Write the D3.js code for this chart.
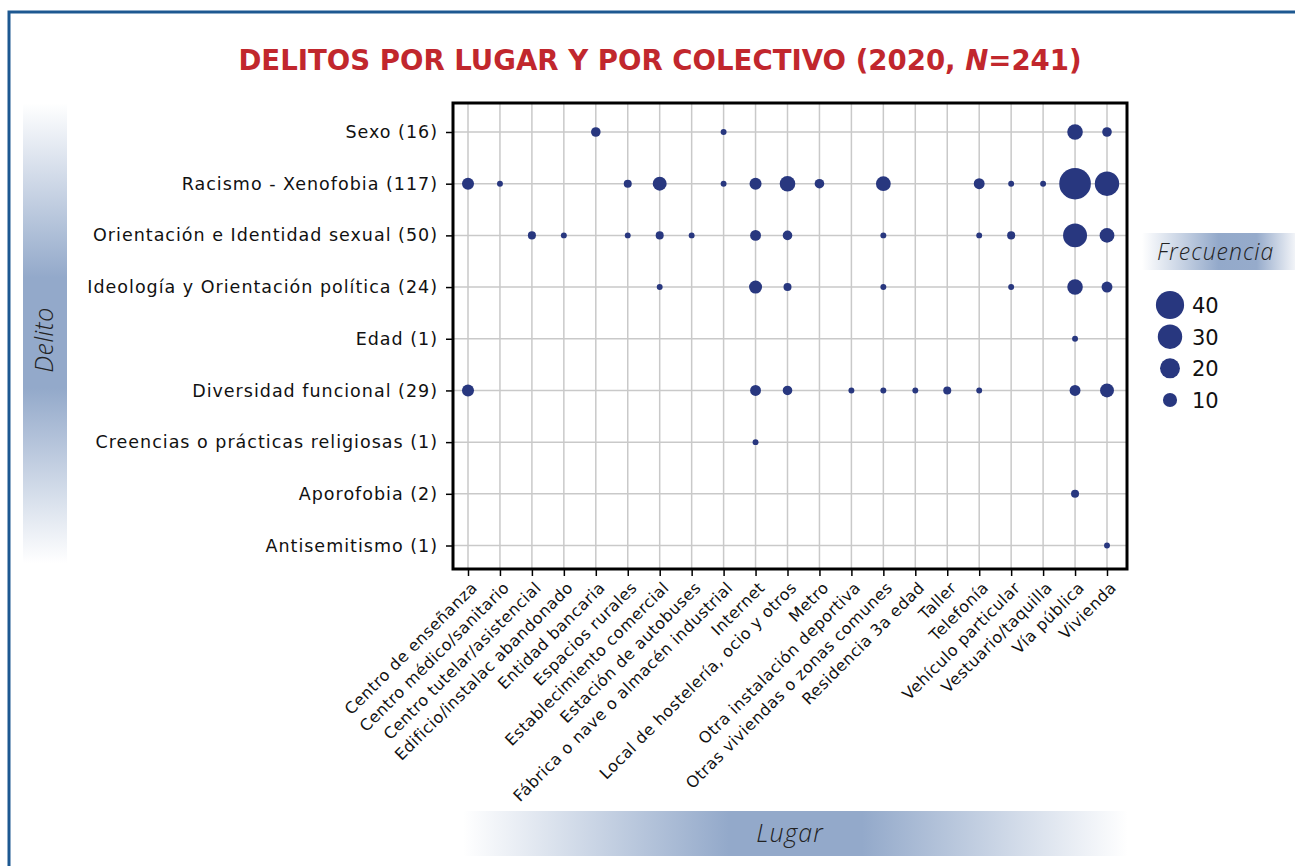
<!DOCTYPE html>
<html>
<head>
<meta charset="utf-8">
<script src="https://cdn.jsdelivr.net/npm/d3@7"></script>
<style>
  html, body { margin: 0; padding: 0; background: #ffffff; }
  svg { display: block; }
</style>
</head>
<body>
<svg id="chart" width="1295" height="866"></svg>
<script>
// ---------------- DATA ----------------
const lugares = [
  "Centro de enseñanza", "Centro médico/sanitario", "Centro tutelar/asistencial",
  "Edificio/instalac abandonado", "Entidad bancaria", "Espacios rurales",
  "Establecimiento comercial", "Estación de autobuses", "Fábrica o nave o almacén industrial",
  "Internet", "Local de hostelería, ocio y otros", "Metro", "Otra instalación deportiva",
  "Otras viviendas o zonas comunes", "Residencia 3a edad", "Taller", "Telefonía",
  "Vehículo particular", "Vestuario/taquilla", "Vía pública", "Vivienda"
];
const delitos = [
  "Sexo (16)", "Racismo - Xenofobia (117)", "Orientación e Identidad sexual (50)",
  "Ideología y Orientación política (24)", "Edad (1)", "Diversidad funcional (29)",
  "Creencias o prácticas religiosas (1)", "Aporofobia (2)", "Antisemitismo (1)"
];
// one array per delito, values in lugares order (0 = no case)
const sexo          = [0,0,0,0,3,0,0,0,1,0,0,0,0,0,0,0,0,0,0,9,3];
const racismo       = [5,1,0,0,0,2,7,0,1,5,9,3,0,8,0,0,4,1,1,45,25];
const orientacion   = [0,0,2,1,0,1,2,1,0,4,3,0,0,1,0,0,1,2,0,24,8];
const ideologia     = [0,0,0,0,0,0,1,0,0,6,2,0,0,1,0,0,0,1,0,9,4];
const edad          = [0,0,0,0,0,0,0,0,0,0,0,0,0,0,0,0,0,0,0,1,0];
const diversidad    = [5,0,0,0,0,0,0,0,0,4,3,0,1,1,1,2,1,0,0,4,7];
const creencias     = [0,0,0,0,0,0,0,0,0,1,0,0,0,0,0,0,0,0,0,0,0];
const aporofobia    = [0,0,0,0,0,0,0,0,0,0,0,0,0,0,0,0,0,0,0,2,0];
const antisemitismo = [0,0,0,0,0,0,0,0,0,0,0,0,0,0,0,0,0,0,0,0,1];
const legendValues  = [40, 30, 20, 10];

const titleText = "DELITOS POR LUGAR Y POR COLECTIVO (2020, ";
const seriesRows = [sexo, racismo, orientacion, ideologia, edad, diversidad, creencias, aporofobia, antisemitismo];

// ---------------- LAYOUT ----------------
const W = 1295, H = 866;
const plot = { x0: 453, y0: 103, x1: 1127, y1: 569 };
const NAVY = "#28377f";
const FONT = "'DejaVu Sans', 'Open Sans', sans-serif";
const LIGHT = "'Open Sans', 'Noto Sans', sans-serif";

const svg = d3.select("#chart");
const defs = svg.append("defs");

function gradient(id, horizontal, stops) {
  const g = defs.append("linearGradient").attr("id", id)
    .attr("x1", 0).attr("y1", 0)
    .attr("x2", horizontal ? 1 : 0).attr("y2", horizontal ? 0 : 1);
  stops.forEach(s => g.append("stop").attr("offset", s[0]).attr("stop-color", s[1]));
}
gradient("gY", false, [[0, "#ffffff"], [0.38, "#93a9ca"], [0.62, "#93a9ca"], [1, "#ffffff"]]);
gradient("gX", true,  [[0, "#ffffff"], [0.4, "#93a9ca"], [0.6, "#93a9ca"], [1, "#ffffff"]]);
gradient("gF", true,  [[0, "#ffffff"], [0.5, "#93a9ca"], [0.75, "#96abcb"], [1, "#f2f4f8"]]);

// outer frame (blue)
svg.append("path")
  .attr("d", `M9,${H + 5} L9,12 L${W + 5},12`)
  .attr("fill", "none").attr("stroke", "#1d5891").attr("stroke-width", 3);

// title
const title = svg.append("text")
  .attr("x", 660).attr("y", 70)
  .attr("text-anchor", "middle")
  .attr("font-family", FONT).attr("font-weight", "bold")
  .attr("font-size", 27.6).attr("fill", "#c1272d");
title.append("tspan").text(titleText);
title.append("tspan").attr("font-style", "italic").text("N");
title.append("tspan").text("=241)");

// scales
const x = d3.scalePoint().domain(lugares).range([468, 1107]);
const y = d3.scalePoint().domain(delitos).range([132, 545.5]);
const r = d3.scalePow().exponent(0.44).domain([0, 45]).range([0, 15.8]);
const rLegend = d3.scaleSqrt().domain([0, 40]).range([0, 14.1]);

// grid lines
const grid = svg.append("g").attr("stroke", "#c9c9c9").attr("stroke-width", 1.5);
grid.selectAll("line.v").data(lugares).join("line")
  .attr("x1", d => x(d)).attr("x2", d => x(d))
  .attr("y1", plot.y0).attr("y2", plot.y1);
grid.selectAll("line.h").data(delitos).join("line")
  .attr("y1", d => y(d)).attr("y2", d => y(d))
  .attr("x1", plot.x0).attr("x2", plot.x1);

// axes
const yAxis = d3.axisLeft(y).tickSize(7).tickPadding(8);
const gy = svg.append("g").attr("transform", `translate(${plot.x0},0)`).call(yAxis);
gy.select(".domain").remove();
gy.selectAll(".tick line").attr("stroke", "#000").attr("stroke-width", 1.5);
gy.selectAll(".tick text")
  .attr("font-family", FONT).attr("font-size", 17.5).attr("letter-spacing", 1)
  .attr("fill", "#111");

const xAxis = d3.axisBottom(x).tickSize(7).tickPadding(4);
const gx = svg.append("g").attr("transform", `translate(0,${plot.y1})`).call(xAxis);
gx.select(".domain").remove();
gx.selectAll(".tick line").attr("stroke", "#000").attr("stroke-width", 1.5);
gx.selectAll(".tick text")
  .attr("font-family", FONT).attr("font-size", 16).attr("letter-spacing", 0.5)
  .attr("fill", "#111")
  .attr("text-anchor", "end")
  .attr("transform", "translate(-2,8) rotate(-45)")
  .attr("dy", "0.35em");

// plot frame
svg.append("rect")
  .attr("x", plot.x0).attr("y", plot.y0)
  .attr("width", plot.x1 - plot.x0).attr("height", plot.y1 - plot.y0)
  .attr("fill", "none").attr("stroke", "#000").attr("stroke-width", 3);

// bubbles
const points = [];
seriesRows.forEach((row, i) => row.forEach((v, j) => {
  if (v > 0) points.push({ delito: delitos[i], lugar: lugares[j], v });
}));
svg.append("g").selectAll("circle").data(points).join("circle")
  .attr("cx", d => x(d.lugar)).attr("cy", d => y(d.delito))
  .attr("r", d => r(d.v)).attr("fill", NAVY);

// Y axis title band
svg.append("rect").attr("x", 23).attr("y", 103).attr("width", 44).attr("height", 460).attr("fill", "url(#gY)");
svg.append("text")
  .attr("transform", "translate(53,340) rotate(-90)")
  .attr("text-anchor", "middle")
  .attr("font-family", LIGHT).attr("font-style", "italic").attr("font-weight", 300)
  .attr("font-size", 25).attr("letter-spacing", 0.5).attr("fill", "#222").text("Delito");

// X axis title band
svg.append("rect").attr("x", 463).attr("y", 811).attr("width", 665).attr("height", 45).attr("fill", "url(#gX)");
svg.append("text")
  .attr("x", 790).attr("y", 842)
  .attr("text-anchor", "middle")
  .attr("font-family", LIGHT).attr("font-style", "italic").attr("font-weight", 300)
  .attr("font-size", 25).attr("letter-spacing", 1).attr("fill", "#222").text("Lugar");

// legend
svg.append("rect").attr("x", 1142).attr("y", 233).attr("width", 153).attr("height", 37).attr("fill", "url(#gF)");
svg.append("text")
  .attr("x", 1157).attr("y", 260)
  .attr("font-family", LIGHT).attr("font-style", "italic").attr("font-weight", 300)
  .attr("font-size", 23).attr("letter-spacing", 1).attr("fill", "#222").text("Frecuencia");

const legendY = d3.scalePoint().domain(legendValues).range([305, 400]);
const leg = svg.append("g");
leg.selectAll("circle").data(legendValues).join("circle")
  .attr("cx", 1170).attr("cy", d => legendY(d))
  .attr("r", d => rLegend(d)).attr("fill", NAVY);
leg.selectAll("text").data(legendValues).join("text")
  .attr("x", 1192).attr("y", d => legendY(d) + 8)
  .attr("font-family", FONT).attr("font-size", 21).attr("fill", "#111")
  .text(d => d);
</script>
</body>
</html>
